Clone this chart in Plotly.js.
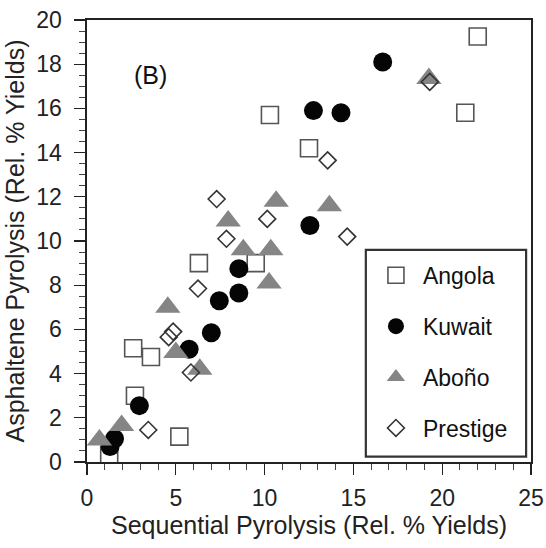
<!DOCTYPE html>
<html>
<head>
<meta charset="utf-8">
<script src="https://cdn.plot.ly/plotly-3.0.1.min.js"></script>
<style>html,body{margin:0;padding:0;background:#fff;}#chart{width:546px;height:548px;}</style>
</head>
<body>
<div id="chart"></div>
<script>
// Series names
const seriesNames = ["Angola", "Kuwait", "Aboño", "Prestige"];

// Angola (open squares)
const angolaX = [1.25, 2.6, 2.7, 3.6, 5.2, 6.3, 9.5, 10.3, 12.5, 21.3, 22.0];
const angolaY = [0.3, 5.15, 3.0, 4.75, 1.15, 9.0, 9.0, 15.7, 14.2, 15.8, 19.25];

// Kuwait (filled circles)
const kuwaitX = [1.3, 1.55, 2.95, 5.75, 7.0, 7.45, 8.55, 8.55, 12.55, 12.75, 14.3, 16.65];
const kuwaitY = [0.7, 1.05, 2.55, 5.1, 5.85, 7.3, 7.65, 8.75, 10.7, 15.9, 15.8, 18.1];

// Aboño (grey triangles)
const abonoX = [0.7, 1.95, 4.55, 5.0, 6.35, 7.95, 8.8, 10.25, 10.35, 10.65, 13.65, 19.25];
const abonoY = [1.0, 1.65, 7.0, 4.95, 4.2, 10.9, 9.6, 8.1, 9.6, 11.8, 11.6, 17.35];

// Prestige (open diamonds)
const prestigeX = [3.45, 4.6, 4.85, 5.85, 6.25, 7.3, 7.85, 10.15, 13.55, 14.65, 19.3];
const prestigeY = [1.45, 5.65, 5.9, 4.05, 7.85, 11.9, 10.1, 11.0, 13.65, 10.2, 17.2];

const FONT = "Liberation Sans, Arial, sans-serif";

const traces = [
  {x: angolaX, y: angolaY, name: seriesNames[0], legendgroup: "a", type: "scatter", mode: "markers",
   marker: {symbol: "square-open", size: 17, color: "#555", line: {width: 1.6}}},
  {x: kuwaitX, y: kuwaitY, name: seriesNames[1], legendgroup: "b", type: "scatter", mode: "markers",
   marker: {symbol: "circle", size: 19, color: "#050505", line: {width: 0}}},
  {x: abonoX, y: abonoY, name: seriesNames[2], legendgroup: "c", type: "scatter", mode: "markers",
   marker: {symbol: "triangle-up", size: 22, color: "#858585", line: {width: 0}}},
  {x: prestigeX, y: prestigeY, name: seriesNames[3], legendgroup: "d", type: "scatter", mode: "markers",
   marker: {symbol: "diamond-open", size: 13, color: "#333", line: {width: 1.6}}}
];

const axisCommon = {
  showgrid: false, zeroline: false, showline: true, mirror: true,
  linecolor: "#222", linewidth: 1.6,
  ticks: "outside", ticklen: 11, tickwidth: 1.2, tickcolor: "#222",
  tickfont: {family: FONT, size: 23, color: "#222"},
  automargin: false
};

const layout = {
  width: 546, height: 548,
  margin: {l: 87, r: 15, t: 20, b: 86},
  paper_bgcolor: "#fff", plot_bgcolor: "#fff",
  font: {family: FONT, color: "#222"},
  showlegend: true,
  xaxis: Object.assign({}, axisCommon, {
    range: [0, 25], dtick: 5, tick0: 0, ticklabelstandoff: 4,
    minor: {dtick: 1, ticks: "outside", ticklen: 6, tickwidth: 1, tickcolor: "#444"},
    title: {text: "Sequential Pyrolysis (Rel. % Yields)", font: {family: FONT, size: 25, color: "#222"}, standoff: 6}
  }),
  yaxis: Object.assign({}, axisCommon, {
    range: [0, 20], dtick: 2, tick0: 0, ticklabelstandoff: 8,
    minor: {dtick: 0.5, ticks: "outside", ticklen: 6, tickwidth: 1, tickcolor: "#444"},
    title: {text: "Asphaltene Pyrolysis (Rel. % Yields)", font: {family: FONT, size: 25, color: "#222"}, standoff: 4}
  }),
  legend: {
    x: 0.635, xanchor: "left", y: 0.471, yanchor: "top",
    bgcolor: "rgba(0,0,0,0)", borderwidth: 0,
    font: {family: FONT, size: 23, color: "#111"},
    traceorder: "grouped", tracegroupgap: 18, itemwidth: 44
  },
  shapes: [{
    type: "rect", xref: "paper", yref: "paper",
    x0: 0.628, x1: 0.989, y0: 0.012, y1: 0.48,
    fillcolor: "#fff", line: {color: "#333", width: 2.2}, layer: "above"
  }],
  annotations: [{
    x: 3.56, y: 17.5, xref: "x", yref: "y", text: "(B)", showarrow: false,
    font: {family: FONT, size: 25, color: "#111"}
  }]
};

Plotly.newPlot("chart", traces, layout, {displayModeBar: false, staticPlot: true});
</script>
</body>
</html>
